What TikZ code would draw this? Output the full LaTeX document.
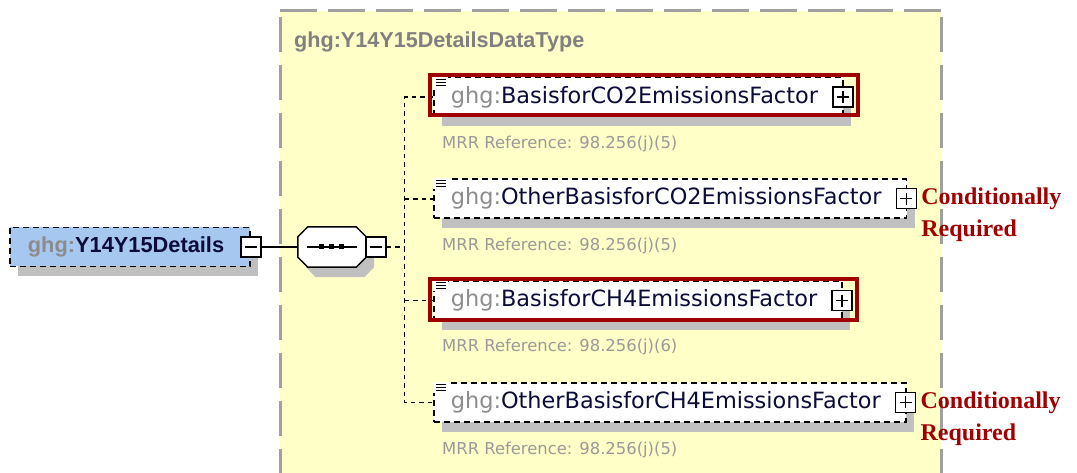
\documentclass[tikz,border=0pt]{standalone}
\usepackage{fontspec}
\usetikzlibrary{positioning,shadows}
\newfontfamily\arialfont{Liberation Sans}
\newfontfamily\tahomafont{DejaVu Sans}
\newfontfamily\timesfont{Liberation Serif}
\definecolor{pale}{HTML}{FFFFC8}
\definecolor{framegray}{HTML}{A0A0A0}
\definecolor{shade}{HTML}{C0C0C0}
\definecolor{ghggray}{HTML}{8C8C8C}
\definecolor{titlegray}{HTML}{808080}
\definecolor{refgray}{HTML}{9A9A9A}
\definecolor{namecol}{HTML}{0C0C3A}
\definecolor{lightblue}{HTML}{A6C8F0}
\definecolor{hired}{HTML}{A00000}
\newcommand{\ghgname}[1]{{\color{ghggray}ghg:}{\color{namecol}#1}}
\tikzset{docicon/.pic={\fill[white] (0,0) rectangle (15,11); \draw[line width=1pt] (3,2.5)--(13,2.5) (3,5.5)--(13,5.5) (3,8.5)--(13,8.5);}}

\begin{document}
\begin{tikzpicture}[x=1pt,y=-1pt, elem/.style={draw,dash pattern=on 6pt off 4pt,line width=1.8pt,fill=white,minimum height=39pt,inner xsep=17pt,inner ysep=0pt,font=\tahomafont\fontsize{22.4}{26}\selectfont,general shadow={fill=shade,shadow xshift=8pt,shadow yshift=-10pt}}, rootbox/.style={elem,fill=lightblue,inner xsep=18pt,font=\arialfont\bfseries\fontsize{21.8}{25}\selectfont}, octo/.style={draw,line width=1.5pt,fill=white,general shadow={fill=shade,shadow xshift=8pt,shadow yshift=-10pt}}, pm/.style={draw,fill=white,minimum size=20pt,inner sep=0pt,line width=1.4pt}, minusbox/.style={pm,path picture={\draw[line width=1.4pt] ([xshift=4pt]path picture bounding box.west)--([xshift=-4pt]path picture bounding box.east);}}, plusbox/.style={pm,path picture={\draw[line width=1.4pt] ([xshift=4pt]path picture bounding box.west)--([xshift=-4pt]path picture bounding box.east) ([yshift=-4pt]path picture bounding box.north)--([yshift=4pt]path picture bounding box.south);}}, frame/.style={draw=framegray,line width=3pt,dash pattern=on 37pt off 11pt}, conn/.style={dash pattern=on 4.5pt off 4pt,line width=1.6pt}, wire/.style={line width=1.6pt}, hilite/.style={draw=hired,line width=4pt}, refnote/.style={font=\tahomafont\fontsize{16.4}{19}\selectfont,text=refgray,inner sep=0pt}, cond/.style={font=\timesfont\bfseries\fontsize{24}{32}\selectfont,text=hired,align=left,inner sep=0pt}]
\useasboundingbox (0,0) rectangle (1077,473);
% complex type area
\fill[pale] (280,11) rectangle (941,473);
\draw[frame] (280,11)--(941,11);
\draw[frame,dash pattern=on 35pt off 13pt] (280,17)--(280,473) (941,17)--(941,473);
\node[anchor=base west,inner sep=0pt,font=\arialfont\bfseries\fontsize{21.6}{25}\selectfont,text=titlegray] (title) at (294,48) {ghg:Y14Y15DetailsDataType};
% root element and sequence
\node[rootbox,anchor=west] (root) at (9,247) {\ghgname{Y14Y15Details}\hspace{8pt}\null};
\node[minusbox] (rootminus) at (root.east) {};
\node[minimum width=68pt,minimum height=40pt,inner sep=0pt,right=36pt of rootminus] (seq) {};
\draw[octo] ([xshift=10pt]seq.north west)--([xshift=-10pt]seq.north east)--([yshift=-10pt]seq.north east)--([yshift=10pt]seq.south east)--([xshift=-10pt]seq.south east)--([xshift=10pt]seq.south west)--([yshift=10pt]seq.south west)--([yshift=-10pt]seq.north west)--cycle;
\node[minusbox,right=-1pt of seq] (seqminus) {};
\coordinate[right=18pt of seqminus] (trunk);
\draw[wire] (seq.center)+(-25,0)--+(25,0);
\foreach \dx in {-10,0,10} \fill ([shift={(\dx-2.5,-2.5)}]seq.center) rectangle +(5,5);
% child elements
\node[elem,anchor=west] (co2) at (433,97) {\ghgname{BasisforCO2EmissionsFactor}\hspace{8pt}\null};
\node[elem,below=61pt of co2.south west,anchor=north west] (oco2) {\ghgname{OtherBasisforCO2EmissionsFactor}\hspace{8pt}\null};
\node[elem,below=61pt of oco2.south west,anchor=north west] (ch4) {\ghgname{BasisforCH4EmissionsFactor}\hspace{8pt}\null};
\node[elem,below=61pt of ch4.south west,anchor=north west] (och4) {\ghgname{OtherBasisforCH4EmissionsFactor}\hspace{8pt}\null};
\foreach \n in {co2,oco2,ch4,och4} {\pic at (\n.north west) {docicon}; \node[plusbox,xshift=-1pt] (\n plus) at (\n.east) {};}
\node[refnote,anchor=base west] (co2ref) at ([shift={(9,31)}]co2.south west) {MRR Reference: 98.256(j)(5)};
\node[refnote,anchor=base west] (oco2ref) at ([shift={(9,31)}]oco2.south west) {MRR Reference: 98.256(j)(5)};
\node[refnote,anchor=base west] (ch4ref) at ([shift={(9,31)}]ch4.south west) {MRR Reference: 98.256(j)(6)};
\node[refnote,anchor=base west] (och4ref) at ([shift={(9,32)}]och4.south west) {MRR Reference: 98.256(j)(5)};
\node[cond,anchor=west] (condco2) at ([shift={(4,16)}]oco2plus.east) {Conditionally\\Required};
\node[cond,anchor=west] (condch4) at ([shift={(4,16)}]och4plus.east) {Conditionally\\Required};
% connectors
\draw[wire] (rootminus)--(seq);
\draw[conn] (seqminus)--(trunk);
\draw[conn] (co2.west)-|(trunk)|-(och4.west);
\draw[conn] (trunk|-oco2.west)--(oco2.west); \draw[conn] (trunk|-ch4.west)--(ch4.west);
% required highlights
\draw[hilite] ([shift={(-3,-2)}]co2.north west) rectangle ([shift={(14,-2)}]co2.south east);
\draw[hilite] ([shift={(-3,-1)}]ch4.north west) rectangle ([shift={(14,-1)}]ch4.south east);
\end{tikzpicture}
\end{document}
